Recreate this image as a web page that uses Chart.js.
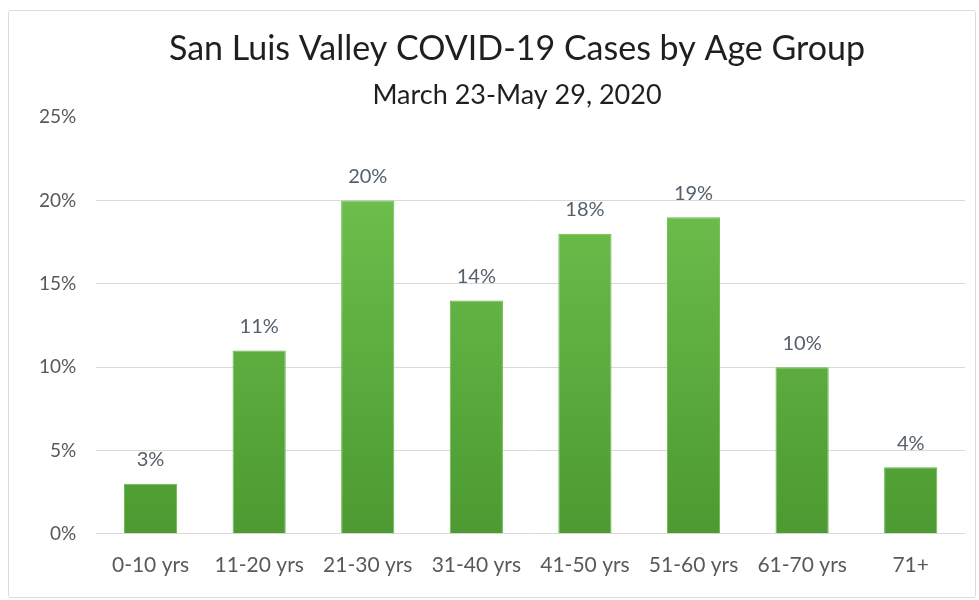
<!DOCTYPE html>
<html>
<head>
<meta charset="utf-8">
<script src="https://cdn.jsdelivr.net/npm/chart.js@4"></script>
<style>
  html, body { margin: 0; padding: 0; background: #fff; }
  #frame {
    position: absolute; left: 8px; top: 10px; width: 966px; height: 586px;
    border: 1px solid #dcdcdc; border-radius: 3px;
  }
  #wrap { position: absolute; left: 0; top: 0; width: 979px; height: 600px; }
</style>
</head>
<body>
<div id="frame"></div>
<div id="wrap"><canvas id="ageChart"></canvas></div>
<script>
// Age group data
const ageGroups = ['0-10 yrs', '11-20 yrs', '21-30 yrs', '31-40 yrs', '41-50 yrs', '51-60 yrs', '61-70 yrs', '71+'];
const casePercent = [3, 11, 20, 14, 18, 19, 10, 4];
const yTicks = [0, 5, 10, 15, 20, 25];

const FONT = 'Lato, "Open Sans", sans-serif';
const GRAY = '#595959';

// vertical green gradient for the bars
function barGradient(ctx) {
  const chart = ctx.chart;
  const area = chart.chartArea;
  if (!area) return '#5fb040';
  const g = chart.ctx.createLinearGradient(0, area.top, 0, area.bottom);
  g.addColorStop(0, '#74c652');
  g.addColorStop(1, '#4c9a31');
  return g;
}

// value labels above each bar
const valueLabels = {
  id: 'valueLabels',
  afterDatasetsDraw(chart) {
    const { ctx } = chart;
    const meta = chart.getDatasetMeta(0);
    ctx.save();
    ctx.font = '20px ' + FONT;
    ctx.fillStyle = '#56606b';
    ctx.textAlign = 'center';
    ctx.textBaseline = 'bottom';
    meta.data.forEach((bar, i) => {
      ctx.fillText(casePercent[i] + '%', bar.x, bar.y - 14);
    });
    ctx.restore();
  }
};

// the original title sits a bit right of the canvas centre
const shiftTitles = {
  id: 'shiftTitles',
  afterLayout(chart) {
    chart.boxes.forEach(b => {
      if (b.options && b.options.text) {
        b.left += 50;
      }
    });
  }
};

new Chart(document.getElementById('ageChart'), {
  type: 'bar',
  data: {
    labels: ageGroups,
    datasets: [{
      data: casePercent,
      backgroundColor: barGradient,
      borderColor: '#68b848',
      borderWidth: 1,
      barPercentage: 0.49,
      categoryPercentage: 1.0
    }]
  },
  options: {
    responsive: true,
    maintainAspectRatio: false,
    animation: false,
    layout: { padding: { top: 26, left: 19, right: 14, bottom: 3 } },
    plugins: {
      legend: { display: false },
      tooltip: { enabled: false },
      title: {
        display: true,
        text: 'San Luis Valley COVID-19 Cases by Age Group',
        color: '#1f1f1f',
        font: { family: FONT, size: 34, weight: 'normal' },
        padding: { top: 3, bottom: 9 }
      },
      subtitle: {
        display: true,
        text: 'March 23-May 29, 2020',
        color: '#1f1f1f',
        font: { family: FONT, size: 27, weight: 'normal' },
        padding: { top: 0, bottom: 6 }
      }
    },
    scales: {
      y: {
        min: 0,
        max: 25,
        afterBuildTicks: (axis) => { axis.ticks = yTicks.map(v => ({ value: v })); },
        border: { display: false },
        grid: {
          drawTicks: false,
          color: (c) => c.tick && c.tick.value === 25 ? 'rgba(0,0,0,0)' : '#d9d9d9'
        },
        ticks: {
          padding: 20,
          color: GRAY,
          font: { family: FONT, size: 19 },
          callback: (v) => v + '%'
        }
      },
      x: {
        border: { display: false },
        grid: { display: false, drawTicks: false },
        ticks: {
          padding: 19,
          color: GRAY,
          maxRotation: 0,
          font: { family: FONT, size: 21 }
        }
      }
    }
  },
  plugins: [valueLabels, shiftTitles]
});
</script>
</body>
</html>
